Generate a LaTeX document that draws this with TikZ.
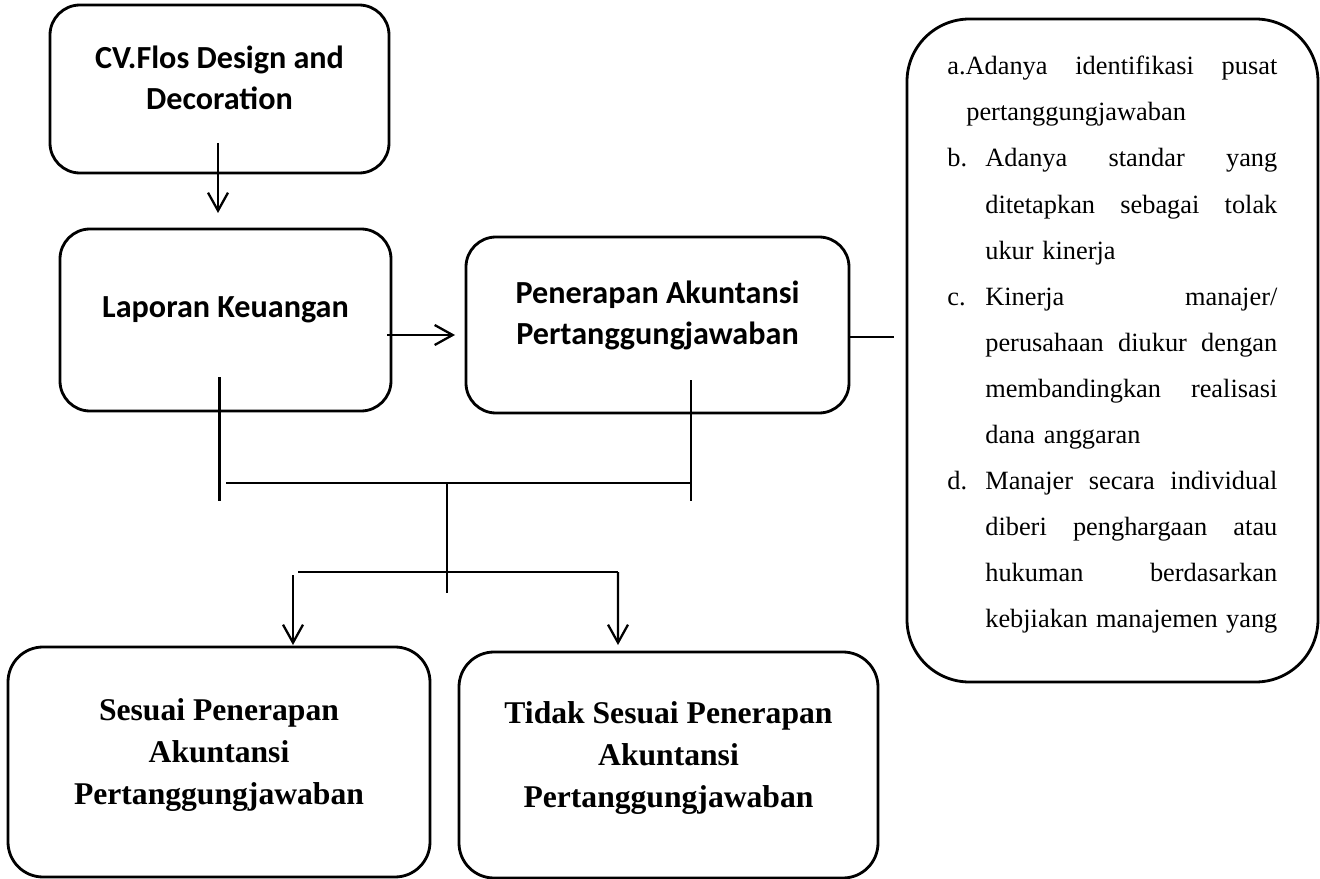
\documentclass[tikz,border=0pt]{standalone}
\usepackage{fontspec}
\setmainfont{Liberation Serif}
\newfontfamily\carlito{Carlito}
\usetikzlibrary{positioning,calc,arrows.meta}

\newcommand{\crititem}[2]{\makebox[0.76cm][l]{#1}\makebox[5.84cm][l]{#2}}
\newcommand{\critline}[1]{\hspace*{0.76cm}\makebox[5.84cm][l]{#1}}

\tikzset{
  box/.style={draw, line width=1.6pt, rounded corners=0.6cm, inner sep=0pt, outer sep=0pt},
  boxlbl/.style={font=\carlito\bfseries\fontsize{18.3}{23.3}\selectfont, align=center, inner sep=0pt},
  reslbl/.style={font=\bfseries\fontsize{18}{23.9}\selectfont, align=center, inner sep=0pt},
  crittext/.style={font=\fontsize{15}{26.2}\selectfont, text width=6.6cm, align=left, inner sep=0pt},
  line/.style={line width=1.3pt},
  arr/.style={line width=1.3pt, -{Straight Barb[length=3.6mm,width=4mm]}}
}

\begin{document}
\begin{tikzpicture}
  \useasboundingbox (0,0) rectangle (26.4,-17.58);
  % boxes
  \node[box, minimum width=6.78cm, minimum height=3.36cm] (cv) at (4.39,-1.78) {};
  \node[box, minimum width=6.62cm, minimum height=3.64cm, below=1.12cm of cv, xshift=0.12cm] (lap) {};
  \node[box, minimum width=7.66cm, minimum height=3.52cm, right=1.5cm of lap, yshift=-0.1cm] (pen) {};
  \node[box, rounded corners=1.25cm, minimum width=8.22cm, minimum height=13.26cm, anchor=north west] (crit) at (18.14,-0.38) {};
  \node[box, rounded corners=0.7cm, minimum width=8.44cm, minimum height=4.6cm, below=4.72cm of lap, xshift=-0.13cm] (sesuai) {};
  \node[box, rounded corners=0.7cm, minimum width=8.38cm, minimum height=4.52cm, right=0.58cm of sesuai, yshift=-0.06cm] (tidak) {};

  % texts
  \node[boxlbl] (cvlbl) at ([yshift=0.23cm]cv.center) {CV.Flos Design and\\Decoration};
  \node[boxlbl] (laplbl) at ([yshift=0.2cm]lap.center) {Laporan Keuangan};
  \node[boxlbl] (penlbl) at ([yshift=0.2cm]pen.center) {Penerapan Akuntansi\\Pertanggungjawaban};
  \node[reslbl] (sesuailbl) at ([yshift=0.14cm]sesuai.center) {Sesuai Penerapan\\Akuntansi\\Pertanggungjawaban};
  \node[reslbl] (tidaklbl) at ([yshift=0.14cm]tidak.center) {Tidak Sesuai Penerapan\\Akuntansi\\Pertanggungjawaban};
  \node[crittext, anchor=north west] (crittxt) at (18.94,-1.12) {%
    \makebox[6.6cm][l]{a.Adanya\hfill identifikasi\hfill pusat}\\
    \hspace*{0.38cm}pertanggungjawaban\\
    \crititem{b.}{Adanya\hfill standar\hfill yang}\\
    \critline{ditetapkan\hfill sebagai\hfill tolak}\\
    \hspace*{0.76cm}ukur kinerja\\
    \crititem{c.}{Kinerja\hfill manajer/}\\
    \critline{perusahaan\hfill diukur\hfill dengan}\\
    \critline{membandingkan\hfill realisasi}\\
    \hspace*{0.76cm}dana anggaran\\
    \crititem{d.}{Manajer\hfill secara\hfill individual}\\
    \critline{diberi\hfill penghargaan\hfill atau}\\
    \critline{hukuman\hfill berdasarkan}\\
    \critline{kebjiakan\hfill manajemen\hfill yang}};

  % connectors
  \draw[arr] ($(cv.south)+(-0.03,0.6)$) -- ($(cv.south |- lap.north)+(-0.03,0.32)$);
  \coordinate (lapout) at ([yshift=-0.3cm]lap.east);
  \draw[arr] ($(lapout)+(-0.08,0)$) -- ($(lapout -| pen.west)+(-0.22,0)$);
  \coordinate (penout) at ([yshift=-0.24cm]pen.east);
  \draw[line] (penout) -- ($(penout -| crit.west)+(-0.26,0)$);

  % branches
  \coordinate (lapdown) at ($(lap.south)+(-0.12,0.68)$);
  \coordinate (pendown) at ($(pen.south)+(0.67,0.66)$);
  \coordinate (busend) at (0,-10.02);
  \coordinate (joinL) at (4.52,-9.66);
  \coordinate (hubtop) at (8.94,-9.66);
  \coordinate (hubbot) at (8.94,-11.86);
  \coordinate (splitL) at (5.96,-11.44);
  \coordinate (splitR) at (12.36,-11.44);
  \draw[line] (lapdown) -- (lapdown |- busend);
  \draw[line] (pendown) -- (pendown |- busend);
  \draw[line] (joinL) -- (joinL -| pendown);
  \draw[line] (hubtop) -- (hubbot);
  \draw[line] (splitL) -- (splitR);
  \draw[arr] ($(sesuai.north)+(1.48,1.44)$) -- ($(sesuai.north)+(1.48,0.04)$);
  \draw[arr] (splitR) -- ($(tidak.north)+(-1.01,0.14)$);
\end{tikzpicture}
\end{document}
